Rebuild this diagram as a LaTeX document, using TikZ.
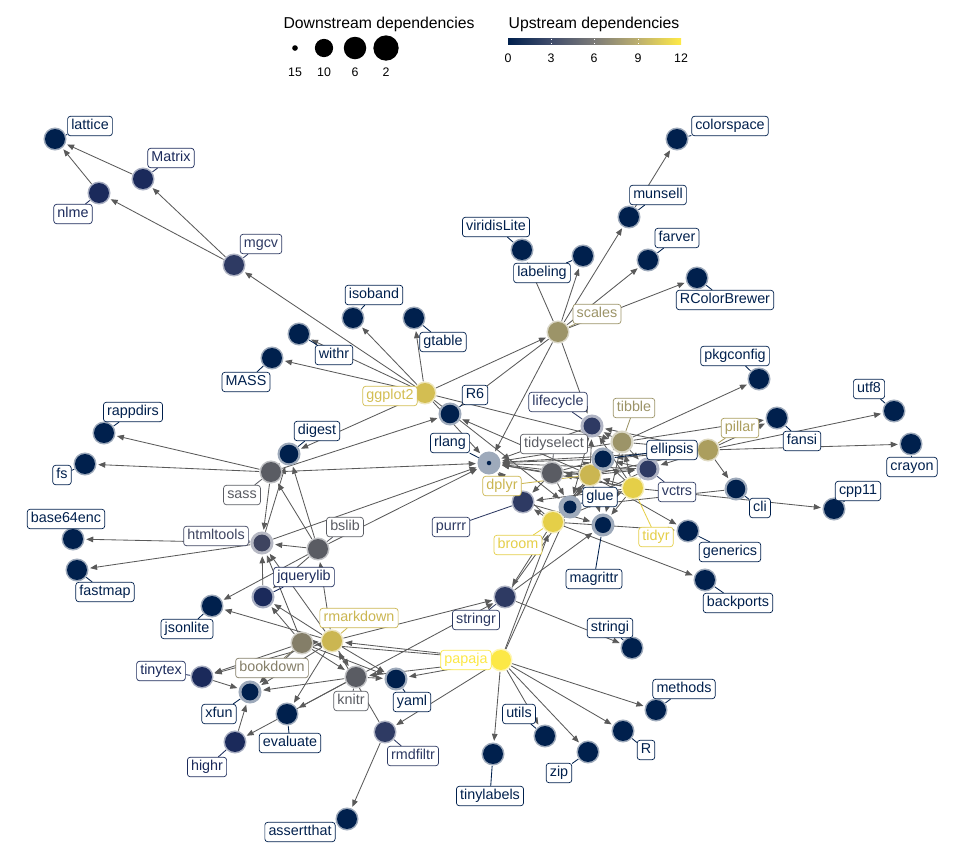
\documentclass[tikz,border=0pt]{standalone}
\usepackage{fontspec}
\setmainfont{Liberation Sans}
\usepackage{xcolor}
\usepackage{tikz}
\usetikzlibrary{arrows.meta,backgrounds,shadings}
\definecolor{cvA}{HTML}{00204D}
\definecolor{cvB}{HTML}{1B2A5B}
\definecolor{cvC}{HTML}{2E3A63}
\definecolor{cvD}{HTML}{3E4460}
\definecolor{cvE}{HTML}{5A5C63}
\definecolor{cvG}{HTML}{847E68}
\definecolor{cvH}{HTML}{9C9468}
\definecolor{cvI}{HTML}{AB9E5E}
\definecolor{cvJ}{HTML}{CBB651}
\definecolor{cvK}{HTML}{D3BE52}
\definecolor{cvL}{HTML}{E5CF48}
\definecolor{cvM}{HTML}{FCE846}
\definecolor{edgegray}{HTML}{5A5A5A}
\definecolor{bar0}{HTML}{00204D}
\definecolor{bar3}{HTML}{414D6B}
\definecolor{bar6}{HTML}{7C7B78}
\definecolor{bar9}{HTML}{BCAF6F}
\definecolor{bar12}{HTML}{FFEA46}
\pgfdeclarehorizontalshading{cividisbar}{100bp}{color(0bp)=(bar0); color(25bp)=(bar0); color(37.5bp)=(bar3); color(50bp)=(bar6); color(62.5bp)=(bar9); color(75bp)=(bar12); color(100bp)=(bar12)}
\newcommand{\labfont}{\fontsize{10.2}{12}\selectfont}
\newcommand{\legtitle}{\fontsize{11.2}{13}\selectfont}
\newcommand{\legtick}{\fontsize{8.8}{10}\selectfont}
\tikzset{
  pkg/.style 2 args={circle, inner sep=0pt, minimum size=16.4pt, fill=#1!38!white,
    path picture={\fill[#1] (path picture bounding box.center) circle (#2);}},
  pkglab/.style={draw=#1, text=#1, fill=white, rounded corners=2pt, line width=0.5pt,
    font=\labfont, inner xsep=2.6pt, inner ysep=2pt, text height=7.5pt, text depth=2.3pt},
  leader/.style={draw=#1, line width=0.6pt},
  dep/.style={draw=edgegray, line width=0.6pt, -{Triangle[length=5pt,width=4pt]}, shorten >=1pt},
  legdot/.style={circle, fill=black, inner sep=0pt, minimum size=#1},
}

\begin{document}
\begin{tikzpicture}[x=0.025cm, y=-0.025cm]
  \useasboundingbox (0,0) rectangle (960,864);
  % legend
  \node[font=\legtitle] (downtitle) at (379,24) {Downstream dependencies};
  \node[legdot=4pt] (dot15) at (295,48) {};
  \node[legdot=13pt] (dot10) at (324,48) {};
  \node[legdot=16pt] (dot6) at (355,48) {};
  \node[legdot=18pt] (dot2) at (386,48) {};
  \node[font=\legtick] (n15) at (295,72) {15};
  \node[font=\legtick] (n10) at (324,72) {10};
  \node[font=\legtick] (n6) at (355,72) {6};
  \node[font=\legtick] (n2) at (386,72) {2};
  \node[font=\legtitle] (uptitle) at (594,24) {Upstream dependencies};
  \shade[shading=cividisbar] (508,38.5) rectangle (681,44);
  \draw[white, line width=0.5pt] (551,38.5) -- (551,39.6) (551,42.9) -- (551,44);
  \draw[white, line width=0.5pt] (594,38.5) -- (594,39.6) (594,42.9) -- (594,44);
  \draw[white, line width=0.5pt] (638,38.5) -- (638,39.6) (638,42.9) -- (638,44);
  \node[font=\legtick] (t0) at (508,58) {0};
  \node[font=\legtick] (t3) at (551,58) {3};
  \node[font=\legtick] (t6) at (594,58) {6};
  \node[font=\legtick] (t9) at (638,58) {9};
  \node[font=\legtick] (t12) at (681,58) {12};

  % packages
  \node[pkg={cvA}{7.1pt}] (lattice) at (55,139) {};
  \node[pkg={cvB}{7.1pt}] (Matrix) at (143,179) {};
  \node[pkg={cvB}{7.1pt}] (nlme) at (99,193) {};
  \node[pkg={cvC}{7.1pt}] (mgcv) at (234,265) {};
  \node[pkg={cvA}{7.1pt}] (isoband) at (353,318) {};
  \node[pkg={cvA}{7.1pt}] (gtable) at (414,318) {};
  \node[pkg={cvA}{7.1pt}] (withr) at (299,334) {};
  \node[pkg={cvA}{7.1pt}] (MASS) at (272,358) {};
  \node[pkg={cvK}{7.1pt}] (ggplot2) at (425,393) {};
  \node[pkg={cvA}{6.6pt}] (R6) at (450,414) {};
  \node[pkg={cvA}{1.6pt}] (rlang) at (489,463) {};
  \node[pkg={cvC}{6.0pt}] (lifecycle) at (592,426) {};
  \node[pkg={cvH}{6.6pt}] (tibble) at (622,442) {};
  \node[pkg={cvE}{7.1pt}] (tidyselect) at (552,473) {};
  \node[pkg={cvJ}{7.1pt}] (dplyr) at (590,475) {};
  \node[pkg={cvA}{6.0pt}] (ellipsis) at (603,459) {};
  \node[pkg={cvI}{7.1pt}] (pillar) at (708,450) {};
  \node[pkg={cvC}{6.0pt}] (vctrs) at (648,469) {};
  \node[pkg={cvA}{6.6pt}] (cli) at (736,489) {};
  \node[pkg={cvL}{7.1pt}] (tidyr) at (633,488) {};
  \node[pkg={cvA}{4.6pt}] (glue) at (570,507) {};
  \node[pkg={cvC}{7.1pt}] (purrr) at (523,502) {};
  \node[pkg={cvL}{7.1pt}] (broom) at (553,522) {};
  \node[pkg={cvA}{5.7pt}] (magrittr) at (603,525) {};
  \node[pkg={cvC}{7.1pt}] (stringr) at (505,597) {};
  \node[pkg={cvA}{7.1pt}] (stringi) at (632,648) {};
  \node[pkg={cvM}{7.1pt}] (papaja) at (501,660) {};
  \node[pkg={cvA}{7.1pt}] (generics) at (688,531) {};
  \node[pkg={cvA}{7.1pt}] (backports) at (705,580) {};
  \node[pkg={cvA}{7.1pt}] (cpp11) at (834,509) {};
  \node[pkg={cvA}{7.1pt}] (utf8) at (894,411) {};
  \node[pkg={cvA}{7.1pt}] (crayon) at (911,444) {};
  \node[pkg={cvA}{7.1pt}] (fansi) at (777,418) {};
  \node[pkg={cvA}{7.1pt}] (pkgconfig) at (759,379) {};
  \node[pkg={cvA}{7.1pt}] (colorspace) at (677,139) {};
  \node[pkg={cvA}{7.1pt}] (munsell) at (629,217) {};
  \node[pkg={cvA}{7.1pt}] (farver) at (648,260) {};
  \node[pkg={cvA}{7.1pt}] (RColorBrewer) at (697,278) {};
  \node[pkg={cvA}{7.1pt}] (viridisLite) at (522,250) {};
  \node[pkg={cvA}{7.1pt}] (labeling) at (583,256) {};
  \node[pkg={cvH}{7.1pt}] (scales) at (558,332) {};
  \node[pkg={cvE}{7.1pt}] (sass) at (271,472) {};
  \node[pkg={cvA}{6.6pt}] (digest) at (289,454) {};
  \node[pkg={cvA}{7.1pt}] (rappdirs) at (104,433) {};
  \node[pkg={cvA}{7.1pt}] (fs) at (85,464) {};
  \node[pkg={cvA}{7.1pt}] (base64enc) at (73,539) {};
  \node[pkg={cvA}{7.1pt}] (fastmap) at (77,570) {};
  \node[pkg={cvD}{6.0pt}] (htmltools) at (262,543) {};
  \node[pkg={cvE}{7.1pt}] (bslib) at (318,549) {};
  \node[pkg={cvB}{6.6pt}] (jquerylib) at (263,597) {};
  \node[pkg={cvA}{7.1pt}] (jsonlite) at (212,606) {};
  \node[pkg={cvJ}{7.1pt}] (rmarkdown) at (332,641) {};
  \node[pkg={cvG}{7.1pt}] (bookdown) at (302,643) {};
  \node[pkg={cvE}{7.1pt}] (knitr) at (356,677) {};
  \node[pkg={cvA}{6.6pt}] (yaml) at (396,679) {};
  \node[pkg={cvB}{7.1pt}] (tinytex) at (202,677) {};
  \node[pkg={cvA}{6.0pt}] (xfun) at (250,692) {};
  \node[pkg={cvA}{7.1pt}] (evaluate) at (287,714) {};
  \node[pkg={cvB}{7.1pt}] (highr) at (235,742) {};
  \node[pkg={cvC}{7.1pt}] (rmdfiltr) at (385,732) {};
  \node[pkg={cvA}{7.1pt}] (assertthat) at (347,819) {};
  \node[pkg={cvA}{7.1pt}] (tinylabels) at (493,754) {};
  \node[pkg={cvA}{7.1pt}] (utils) at (545,736) {};
  \node[pkg={cvA}{7.1pt}] (zip) at (588,752) {};
  \node[pkg={cvA}{7.1pt}] (R) at (623,731) {};
  \node[pkg={cvA}{7.1pt}] (methods) at (656,710) {};

  % labels
  \node[pkglab=cvA] (lattice-t) at (90,126) {lattice};
  \node[pkglab=cvB] (Matrix-t) at (171,158) {Matrix};
  \node[pkglab=cvB] (nlme-t) at (73,214) {nlme};
  \node[pkglab=cvC] (mgcv-t) at (261,244) {mgcv};
  \node[pkglab=cvA] (isoband-t) at (374,295) {isoband};
  \node[pkglab=cvA] (gtable-t) at (443,342) {gtable};
  \node[pkglab=cvA] (withr-t) at (334,355) {withr};
  \node[pkglab=cvA] (MASS-t) at (246,382) {MASS};
  \node[pkglab=cvK] (ggplot2-t) at (390,396) {ggplot2};
  \node[pkglab=cvA] (R6-t) at (475,395) {R6};
  \node[pkglab=cvA] (rlang-t) at (450,443) {rlang};
  \node[pkglab=cvC] (lifecycle-t) at (558,402) {lifecycle};
  \node[pkglab=cvH] (tibble-t) at (634,408) {tibble};
  \node[pkglab=cvE] (tidyselect-t) at (554,444) {tidyselect};
  \node[pkglab=cvJ] (dplyr-t) at (502,486) {dplyr};
  \node[pkglab=cvA] (ellipsis-t) at (672,450) {ellipsis};
  \node[pkglab=cvI] (pillar-t) at (740,428) {pillar};
  \node[pkglab=cvC] (vctrs-t) at (677,492) {vctrs};
  \node[pkglab=cvA] (cli-t) at (760,508) {cli};
  \node[pkglab=cvL] (tidyr-t) at (656,537) {tidyr};
  \node[pkglab=cvA] (glue-t) at (600,497) {glue};
  \node[pkglab=cvC] (purrr-t) at (451,527) {purrr};
  \node[pkglab=cvL] (broom-t) at (518,545) {broom};
  \node[pkglab=cvA] (magrittr-t) at (594,579) {magrittr};
  \node[pkglab=cvC] (stringr-t) at (476,620) {stringr};
  \node[pkglab=cvA] (stringi-t) at (610,628) {stringi};
  \node[pkglab=cvM] (papaja-t) at (466,660) {papaja};
  \node[pkglab=cvA] (generics-t) at (730,552) {generics};
  \node[pkglab=cvA] (backports-t) at (738,603) {backports};
  \node[pkglab=cvA] (cpp11-t) at (858,491) {cpp11};
  \node[pkglab=cvA] (utf8-t) at (869,389) {utf8};
  \node[pkglab=cvA] (crayon-t) at (912,467) {crayon};
  \node[pkglab=cvA] (fansi-t) at (802,441) {fansi};
  \node[pkglab=cvA] (pkgconfig-t) at (735,356) {pkgconfig};
  \node[pkglab=cvA] (colorspace-t) at (730,126) {colorspace};
  \node[pkglab=cvA] (munsell-t) at (658,195) {munsell};
  \node[pkglab=cvA] (farver-t) at (677,238) {farver};
  \node[pkglab=cvA] (RColorBrewer-t) at (725,300) {RColorBrewer};
  \node[pkglab=cvA] (viridisLite-t) at (496,227) {viridisLite};
  \node[pkglab=cvA] (labeling-t) at (542,273) {labeling};
  \node[pkglab=cvH] (scales-t) at (597,314) {scales};
  \node[pkglab=cvE] (sass-t) at (242,495) {sass};
  \node[pkglab=cvA] (digest-t) at (317,431) {digest};
  \node[pkglab=cvA] (rappdirs-t) at (133,412) {rappdirs};
  \node[pkglab=cvA] (fs-t) at (62,475) {fs};
  \node[pkglab=cvA] (base64enc-t) at (66,519) {base64enc};
  \node[pkglab=cvA] (fastmap-t) at (105,592) {fastmap};
  \node[pkglab=cvD] (htmltools-t) at (216,536) {htmltools};
  \node[pkglab=cvE] (bslib-t) at (345,527) {bslib};
  \node[pkglab=cvB] (jquerylib-t) at (304,577) {jquerylib};
  \node[pkglab=cvA] (jsonlite-t) at (187,629) {jsonlite};
  \node[pkglab=cvJ] (rmarkdown-t) at (359,618) {rmarkdown};
  \node[pkglab=cvG] (bookdown-t) at (272,668) {bookdown};
  \node[pkglab=cvE] (knitr-t) at (351,701) {knitr};
  \node[pkglab=cvA] (yaml-t) at (412,702) {yaml};
  \node[pkglab=cvB] (tinytex-t) at (161,671) {tinytex};
  \node[pkglab=cvA] (xfun-t) at (219,714) {xfun};
  \node[pkglab=cvA] (evaluate-t) at (290,743) {evaluate};
  \node[pkglab=cvB] (highr-t) at (207,767) {highr};
  \node[pkglab=cvC] (rmdfiltr-t) at (413,756) {rmdfiltr};
  \node[pkglab=cvA] (assertthat-t) at (300,832) {assertthat};
  \node[pkglab=cvA] (tinylabels-t) at (490,796) {tinylabels};
  \node[pkglab=cvA] (utils-t) at (519,714) {utils};
  \node[pkglab=cvA] (zip-t) at (559,773) {zip};
  \node[pkglab=cvA] (R-t) at (646,750) {R};
  \node[pkglab=cvA] (methods-t) at (684,689) {methods};

  \begin{scope}[on background layer]
  % dependencies
  \draw[dep] (Matrix) -- (lattice);
  \draw[dep] (nlme) -- (lattice);
  \draw[dep] (mgcv) -- (nlme);
  \draw[dep] (mgcv) -- (Matrix);
  \draw[dep] (ggplot2) -- (mgcv);
  \draw[dep] (ggplot2) -- (MASS);
  \draw[dep] (ggplot2) -- (withr);
  \draw[dep] (ggplot2) -- (isoband);
  \draw[dep] (ggplot2) -- (gtable);
  \draw[dep] (ggplot2) -- (scales);
  \draw[dep] (ggplot2) -- (rlang);
  \draw[dep] (ggplot2) -- (digest);
  \draw[dep] (ggplot2) -- (glue);
  \draw[dep] (ggplot2) -- (tibble);
  \draw[dep] (scales) -- (farver);
  \draw[dep] (scales) -- (labeling);
  \draw[dep] (scales) -- (lifecycle);
  \draw[dep] (scales) -- (munsell);
  \draw[dep] (scales) -- (R6);
  \draw[dep] (scales) -- (RColorBrewer);
  \draw[dep] (scales) -- (rlang);
  \draw[dep] (scales) -- (viridisLite);
  \draw[dep] (munsell) -- (colorspace);
  \draw[dep] (lifecycle) -- (glue);
  \draw[dep] (lifecycle) -- (rlang);
  \draw[dep] (tibble) -- (ellipsis);
  \draw[dep] (tibble) -- (fansi);
  \draw[dep] (tibble) -- (lifecycle);
  \draw[dep] (tibble) -- (magrittr);
  \draw[dep] (tibble) -- (pillar);
  \draw[dep] (tibble) -- (pkgconfig);
  \draw[dep] (tibble) -- (rlang);
  \draw[dep] (tibble) -- (vctrs);
  \draw[dep] (pillar) -- (cli);
  \draw[dep] (pillar) -- (crayon);
  \draw[dep] (pillar) -- (ellipsis);
  \draw[dep] (pillar) -- (fansi);
  \draw[dep] (pillar) -- (lifecycle);
  \draw[dep] (pillar) -- (rlang);
  \draw[dep] (pillar) -- (utf8);
  \draw[dep] (pillar) -- (vctrs);
  \draw[dep] (vctrs) -- (ellipsis);
  \draw[dep] (vctrs) -- (glue);
  \draw[dep] (vctrs) -- (rlang);
  \draw[dep] (ellipsis) -- (rlang);
  \draw[dep] (cli) -- (glue);
  \draw[dep] (tidyselect) -- (ellipsis);
  \draw[dep] (tidyselect) -- (glue);
  \draw[dep] (tidyselect) -- (purrr);
  \draw[dep] (tidyselect) -- (rlang);
  \draw[dep] (tidyselect) -- (vctrs);
  \draw[dep] (purrr) -- (magrittr);
  \draw[dep] (purrr) -- (rlang);
  \draw[dep] (dplyr) -- (ellipsis);
  \draw[dep] (dplyr) -- (generics);
  \draw[dep] (dplyr) -- (glue);
  \draw[dep] (dplyr) -- (lifecycle);
  \draw[dep] (dplyr) -- (magrittr);
  \draw[dep] (dplyr) -- (R6);
  \draw[dep] (dplyr) -- (rlang);
  \draw[dep] (dplyr) -- (tibble);
  \draw[dep] (dplyr) -- (tidyselect);
  \draw[dep] (dplyr) -- (vctrs);
  \draw[dep] (dplyr) -- (pillar);
  \draw[dep] (tidyr) -- (cpp11);
  \draw[dep] (tidyr) -- (dplyr);
  \draw[dep] (tidyr) -- (ellipsis);
  \draw[dep] (tidyr) -- (glue);
  \draw[dep] (tidyr) -- (lifecycle);
  \draw[dep] (tidyr) -- (magrittr);
  \draw[dep] (tidyr) -- (purrr);
  \draw[dep] (tidyr) -- (rlang);
  \draw[dep] (tidyr) -- (tibble);
  \draw[dep] (tidyr) -- (tidyselect);
  \draw[dep] (tidyr) -- (vctrs);
  \draw[dep] (broom) -- (backports);
  \draw[dep] (broom) -- (dplyr);
  \draw[dep] (broom) -- (ellipsis);
  \draw[dep] (broom) -- (generics);
  \draw[dep] (broom) -- (glue);
  \draw[dep] (broom) -- (purrr);
  \draw[dep] (broom) -- (rlang);
  \draw[dep] (broom) -- (stringr);
  \draw[dep] (broom) -- (tibble);
  \draw[dep] (broom) -- (tidyr);
  \draw[dep] (stringr) -- (glue);
  \draw[dep] (stringr) -- (magrittr);
  \draw[dep] (stringr) -- (stringi);
  \draw[dep] (sass) -- (digest);
  \draw[dep] (sass) -- (fs);
  \draw[dep] (sass) -- (rappdirs);
  \draw[dep] (sass) -- (rlang);
  \draw[dep] (sass) -- (R6);
  \draw[dep] (sass) -- (htmltools);
  \draw[dep] (htmltools) -- (digest);
  \draw[dep] (htmltools) -- (base64enc);
  \draw[dep] (htmltools) -- (fastmap);
  \draw[dep] (htmltools) -- (rlang);
  \draw[dep] (bslib) -- (htmltools);
  \draw[dep] (bslib) -- (jquerylib);
  \draw[dep] (bslib) -- (jsonlite);
  \draw[dep] (bslib) -- (sass);
  \draw[dep] (bslib) -- (digest);
  \draw[dep] (bslib) -- (rlang);
  \draw[dep] (jquerylib) -- (htmltools);
  \draw[dep] (rmarkdown) -- (bslib);
  \draw[dep] (rmarkdown) -- (evaluate);
  \draw[dep] (rmarkdown) -- (htmltools);
  \draw[dep] (rmarkdown) -- (jquerylib);
  \draw[dep] (rmarkdown) -- (jsonlite);
  \draw[dep] (rmarkdown) -- (knitr);
  \draw[dep] (rmarkdown) -- (stringr);
  \draw[dep] (rmarkdown) -- (tinytex);
  \draw[dep] (rmarkdown) -- (xfun);
  \draw[dep] (rmarkdown) -- (yaml);
  \draw[dep] (knitr) -- (evaluate);
  \draw[dep] (knitr) -- (highr);
  \draw[dep] (knitr) -- (stringr);
  \draw[dep] (knitr) -- (yaml);
  \draw[dep] (knitr) -- (xfun);
  \draw[dep] (bookdown) -- (htmltools);
  \draw[dep] (bookdown) -- (jquerylib);
  \draw[dep] (bookdown) -- (knitr);
  \draw[dep] (bookdown) -- (rmarkdown);
  \draw[dep] (bookdown) -- (tinytex);
  \draw[dep] (bookdown) -- (xfun);
  \draw[dep] (bookdown) -- (yaml);
  \draw[dep] (tinytex) -- (xfun);
  \draw[dep] (highr) -- (xfun);
  \draw[dep] (rmdfiltr) -- (assertthat);
  \draw[dep] (rmdfiltr) -- (rmarkdown);
  \draw[dep] (papaja) -- (bookdown);
  \draw[dep] (papaja) -- (broom);
  \draw[dep] (papaja) -- (glue);
  \draw[dep] (papaja) -- (knitr);
  \draw[dep] (papaja) -- (methods);
  \draw[dep] (papaja) -- (rmarkdown);
  \draw[dep] (papaja) -- (rmdfiltr);
  \draw[dep] (papaja) -- (tinylabels);
  \draw[dep] (papaja) -- (utils);
  \draw[dep] (papaja) -- (yaml);
  \draw[dep] (papaja) -- (zip);
  \draw[dep] (papaja) -- (R);
  % label leaders
  \draw[leader=cvA] (lattice-t) -- (lattice);
  \draw[leader=cvB] (Matrix-t) -- (Matrix);
  \draw[leader=cvB] (nlme-t) -- (nlme);
  \draw[leader=cvC] (mgcv-t) -- (mgcv);
  \draw[leader=cvA] (isoband-t) -- (isoband);
  \draw[leader=cvA] (gtable-t) -- (gtable);
  \draw[leader=cvA] (withr-t) -- (withr);
  \draw[leader=cvA] (MASS-t) -- (MASS);
  \draw[leader=cvK] (ggplot2-t) -- (ggplot2);
  \draw[leader=cvA] (R6-t) -- (R6);
  \draw[leader=cvA] (rlang-t) -- (rlang.center);
  \draw[leader=cvC] (lifecycle-t) -- (lifecycle);
  \draw[leader=cvH] (tibble-t) -- (tibble);
  \draw[leader=cvE] (tidyselect-t) -- (tidyselect);
  \draw[leader=cvJ] (dplyr-t) -- (dplyr);
  \draw[leader=cvA] (ellipsis-t) -- (ellipsis);
  \draw[leader=cvI] (pillar-t) -- (pillar);
  \draw[leader=cvC] (vctrs-t) -- (vctrs);
  \draw[leader=cvA] (cli-t) -- (cli);
  \draw[leader=cvL] (tidyr-t) -- (tidyr);
  \draw[leader=cvA] (glue-t) -- (glue);
  \draw[leader=cvC] (purrr-t) -- (purrr);
  \draw[leader=cvL] (broom-t) -- (broom);
  \draw[leader=cvA] (magrittr-t) -- (magrittr);
  \draw[leader=cvC] (stringr-t) -- (stringr);
  \draw[leader=cvA] (stringi-t) -- (stringi);
  \draw[leader=cvM] (papaja-t) -- (papaja);
  \draw[leader=cvA] (generics-t) -- (generics);
  \draw[leader=cvA] (backports-t) -- (backports);
  \draw[leader=cvA] (cpp11-t) -- (cpp11);
  \draw[leader=cvA] (utf8-t) -- (utf8);
  \draw[leader=cvA] (crayon-t) -- (crayon);
  \draw[leader=cvA] (fansi-t) -- (fansi);
  \draw[leader=cvA] (pkgconfig-t) -- (pkgconfig);
  \draw[leader=cvA] (colorspace-t) -- (colorspace);
  \draw[leader=cvA] (munsell-t) -- (munsell);
  \draw[leader=cvA] (farver-t) -- (farver);
  \draw[leader=cvA] (RColorBrewer-t) -- (RColorBrewer);
  \draw[leader=cvA] (viridisLite-t) -- (viridisLite);
  \draw[leader=cvA] (labeling-t) -- (labeling);
  \draw[leader=cvH] (scales-t) -- (scales);
  \draw[leader=cvE] (sass-t) -- (sass);
  \draw[leader=cvA] (digest-t) -- (digest);
  \draw[leader=cvA] (rappdirs-t) -- (rappdirs);
  \draw[leader=cvA] (fs-t) -- (fs);
  \draw[leader=cvA] (base64enc-t) -- (base64enc);
  \draw[leader=cvA] (fastmap-t) -- (fastmap);
  \draw[leader=cvD] (htmltools-t) -- (htmltools);
  \draw[leader=cvE] (bslib-t) -- (bslib);
  \draw[leader=cvB] (jquerylib-t) -- (jquerylib);
  \draw[leader=cvA] (jsonlite-t) -- (jsonlite);
  \draw[leader=cvJ] (rmarkdown-t) -- (rmarkdown);
  \draw[leader=cvG] (bookdown-t) -- (bookdown);
  \draw[leader=cvE] (knitr-t) -- (knitr);
  \draw[leader=cvA] (yaml-t) -- (yaml);
  \draw[leader=cvB] (tinytex-t) -- (tinytex);
  \draw[leader=cvA] (xfun-t) -- (xfun);
  \draw[leader=cvA] (evaluate-t) -- (evaluate);
  \draw[leader=cvB] (highr-t) -- (highr);
  \draw[leader=cvC] (rmdfiltr-t) -- (rmdfiltr);
  \draw[leader=cvA] (assertthat-t) -- (assertthat);
  \draw[leader=cvA] (tinylabels-t) -- (tinylabels);
  \draw[leader=cvA] (utils-t) -- (utils);
  \draw[leader=cvA] (zip-t) -- (zip);
  \draw[leader=cvA] (R-t) -- (R);
  \draw[leader=cvA] (methods-t) -- (methods);
  \end{scope}
\end{tikzpicture}
\end{document}
